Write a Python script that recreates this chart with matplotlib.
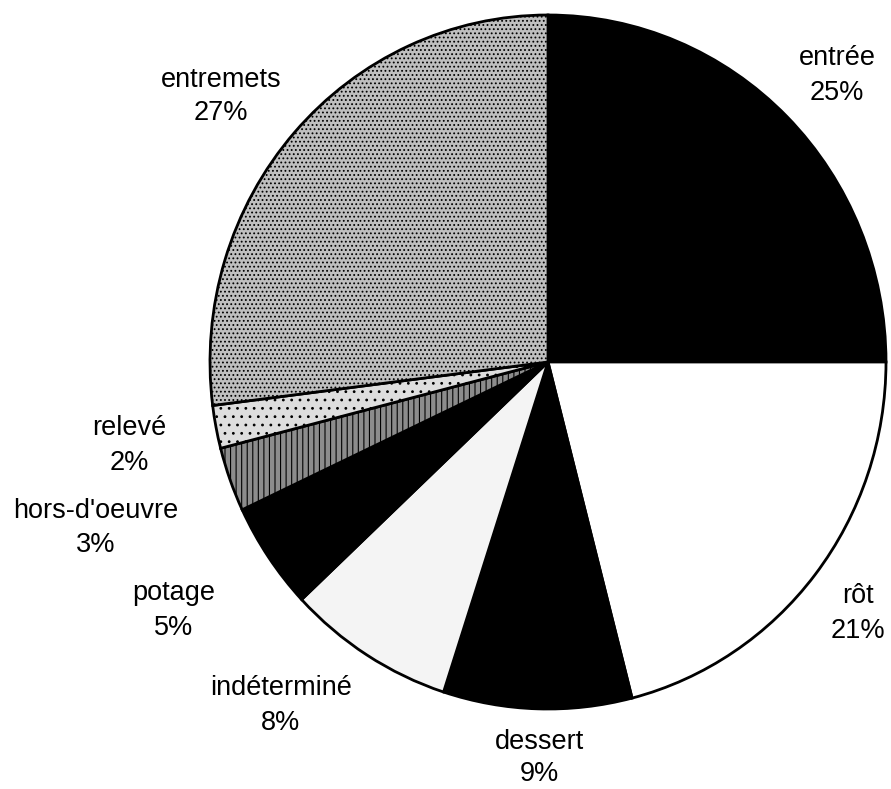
import matplotlib
matplotlib.use("Agg")
import matplotlib.pyplot as plt

# course types and their share of the dishes (%)
courses = ["entrée", "rôt", "dessert", "indéterminé", "potage",
           "hors-d'oeuvre", "relevé", "entremets"]
shares = [25, 21, 9, 8, 5, 3, 2, 27]

# fill for each wedge (face, hatch)
faces = ["black", "white", "black", "#f4f4f4", "black",
         "#8c8c8c", "#dedede", "#bfbfbf"]
hatches = [None, None, None, None, None, "|||", "..", "...."]

# label placement in pixels: (x centre, baseline of name, baseline of value)
label_pos = [(837, 65, 100), (858, 603, 638), (539, 749, 781),
             (281, 695, 730), (174, 600, 635), (96, 518, 552),
             (129, 435, 470), (221, 87, 120)]

W, H = 891, 789
CX, CY, RX, RY = 548, 362, 338, 347

plt.rcParams["hatch.linewidth"] = 0.8
plt.rcParams["hatch.color"] = "#3a3a3a"

fig = plt.figure(figsize=(W / 100, H / 100), dpi=100)
ax = fig.add_axes([0, 0, 1, 1])

wedges, _ = ax.pie(shares, startangle=90, counterclock=False,
                   colors=faces,
                   wedgeprops=dict(edgecolor="black", linewidth=2.0))
for w, h in zip(wedges, hatches):
    if h:
        w.set_hatch(h)

# unit pie stretched to the pixel frame
ax.set_aspect("auto")
ax.set_xlim(-CX / RX, (W - CX) / RX)
ax.set_ylim((CY - H) / RY, CY / RY)
ax.axis("off")


def px(x, y):
    return (x - CX) / RX, (CY - y) / RY


font = dict(family=["Liberation Sans", "DejaVu Sans"], fontsize=19.5,
            color="black", ha="center", va="baseline")
for name, val, (x, y1, y2) in zip(courses, shares, label_pos):
    ax.text(*px(x, y1), name, **font)
    ax.text(*px(x, y2), f"{val}%", **font)

fig.savefig("out.png", dpi=100, facecolor="white")
